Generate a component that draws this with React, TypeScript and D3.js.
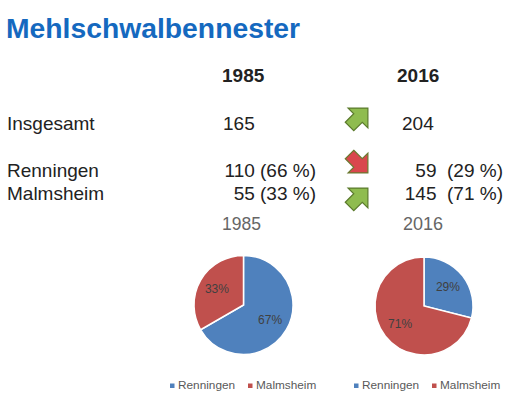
import React from "react";
import * as d3 from "d3";

const title = "Mehlschwalbennester";
const years = ["1985", "2016"];
const regions = ["Renningen", "Malmsheim"];
const totalLabel = "Insgesamt";
const totals = [165, 204];
const nests1985 = [110, 55];
const nests2016 = [59, 145];
const tablePct1985 = ["66 %", "33 %"];
const tablePct2016 = ["29 %", "71 %"];
const trendTotal = "up";
const trendRegions = ["down", "up"];
const pieColors = ["#4f81bd", "#c0504d"];

const W = 512;
const H = 399;
const FONT = "'Liberation Sans', Arial, sans-serif";

function Arrow({ x, y, dir }: { x: number; y: number; dir: string }) {
  const up = dir === "up";
  const pts = [
    [-12, -6],
    [0, -6],
    [0, -14],
    [14, 0],
    [0, 14],
    [0, 6],
    [-12, 6],
  ];
  const path = d3.line()(pts as [number, number][]) + "Z";
  return (
    <path
      d={path}
      transform={`translate(${x},${y}) rotate(${up ? -45 : 45})`}
      fill={up ? "#8fbc4f" : "#d9474d"}
      stroke={up ? "#5b7a2c" : "#6a7a30"}
      strokeWidth={1.2}
    />
  );
}

function Pie({ cx, cy, r, values }: { cx: number; cy: number; r: number; values: number[] }) {
  const total = d3.sum(values);
  const pie = d3.pie<number>().sort(null)(values);
  const arc = d3.arc<d3.PieArcDatum<number>>().innerRadius(0).outerRadius(r);
  const labelArc = d3
    .arc<d3.PieArcDatum<number>>()
    .innerRadius(r * 0.62)
    .outerRadius(r * 0.62);
  return (
    <g transform={`translate(${cx},${cy})`}>
      {pie.map((d, i) => (
        <path key={i} d={arc(d) || ""} fill={pieColors[i]} stroke="#fff" strokeWidth={1.5} />
      ))}
      {pie.map((d, i) => {
        const [lx, ly] = labelArc.centroid(d);
        return (
          <text
            key={"l" + i}
            x={lx}
            y={ly}
            textAnchor="middle"
            dominantBaseline="middle"
            fontSize={12}
            fill="#404040"
            fontFamily={FONT}
          >
            {Math.round((d.data / total) * 100) + "%"}
          </text>
        );
      })}
    </g>
  );
}

function Legend({ x, y, gap, fs }: { x: number; y: number; gap: number; fs: number }) {
  return (
    <g>
      {regions.map((r, i) => (
        <g key={r} transform={`translate(${x + i * gap},${y})`}>
          <rect x={0} y={-5.5} width={4.5} height={4.5} fill={pieColors[i]} />
          <text x={8} y={0} fontSize={fs} fill="#595959" fontFamily={FONT}>
            {r}
          </text>
        </g>
      ))}
    </g>
  );
}

export default function App() {
  const col1 = 316;
  const col2 = 503;
  const rowsY = [177, 200];
  const data = [nests1985, nests2016];
  return (
    <svg
      width={W}
      height={H}
      style={{ position: "absolute", left: 0, top: 0, background: "#fff" }}
      fontFamily={FONT}
    >
      <rect width={W} height={H} fill="#fff" />
      <text x={6} y={38} fontSize={28.3} fontWeight="bold" fill="#1569bf">
        {title}
      </text>
      <text x={222} y={82} fontSize={19} fontWeight="bold" fill="#222">
        {years[0]}
      </text>
      <text x={397} y={82} fontSize={19} fontWeight="bold" fill="#222">
        {years[1]}
      </text>

      <text x={7} y={130} fontSize={19} fill="#222">
        {totalLabel}
      </text>
      <text x={223} y={130} fontSize={19} fill="#222">
        {totals[0]}
      </text>
      <text x={402} y={130} fontSize={19} fill="#222">
        {totals[1]}
      </text>
      <Arrow x={358} y={118} dir={trendTotal} />

      {regions.map((r, i) => (
        <g key={r}>
          <text x={7} y={rowsY[i]} fontSize={19} fill="#222">
            {r}
          </text>
          <text x={col1} y={rowsY[i]} fontSize={19} fill="#222" textAnchor="end">
            {`${data[0][i]} (${tablePct1985[i]})`}
          </text>
          <text x={col2} y={rowsY[i]} fontSize={19} fill="#222" textAnchor="end" style={{ whiteSpace: "pre" }}>
            {`${data[1][i]}  (${tablePct2016[i]})`}
          </text>
          <Arrow x={358} y={i === 0 ? 163 : 198} dir={trendRegions[i]} />
        </g>
      ))}

      <text x={222} y={230} fontSize={17.5} fill="#666">
        {years[0]}
      </text>
      <text x={403} y={230} fontSize={18} fill="#666">
        {years[1]}
      </text>

      <Pie cx={243.5} cy={305} r={49.5} values={nests1985} />
      <Pie cx={424} cy={306} r={49} values={nests2016} />

      <Legend x={170} y={389} gap={78} fs={11.8} />
      <Legend x={354} y={389} gap={78} fs={11.8} />
    </svg>
  );
}
